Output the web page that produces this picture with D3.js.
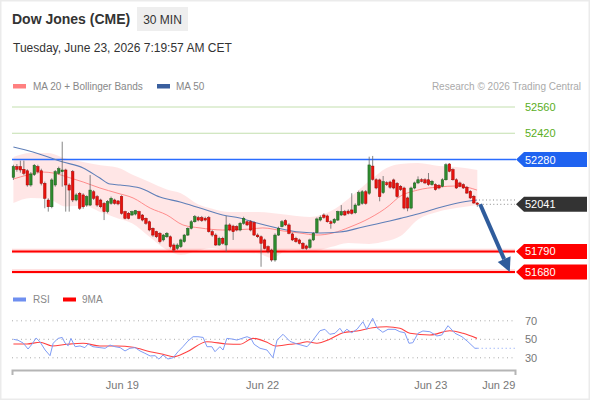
<!doctype html>
<html>
<head>
<meta charset="utf-8">
<title>Dow Jones (CME) 30 MIN</title>
<script src="https://cdnjs.cloudflare.com/ajax/libs/d3/7.8.5/d3.min.js"></script>
<style>
  body { margin: 0; background: #fff; }
  svg { display: block; font-family: "Liberation Sans", Arial, sans-serif; }
</style>
</head>
<body>
<div id="chart"></div>
<script>
// 30 min candles, [open, high, low, close]
const candles = [
  [52185,52252,52171,52242],[52242,52256,52215,52228],[52242,52274,52210,52224],[52228,52274,52196,52206],
  [52220,52228,52135,52144],[52144,52213,52135,52203],[52199,52256,52192,52249],[52242,52252,52206,52215],
  [52220,52231,52142,52153],[52153,52162,52020,52073],[52064,52073,52002,52028],[52028,52180,52020,52171],
  [52144,52224,52135,52215],[52206,52242,52199,52231],[52215,52375,52135,52224],[52224,52231,52002,52144],
  [52144,52153,52002,52117],[52215,52224,52053,52064],[52064,52100,52057,52091],[52100,52107,52011,52020],
  [52091,52100,52018,52028],[52037,52089,52028,52082],[52037,52197,52032,52117],[52108,52117,52064,52073],
  [52082,52091,52028,52037],[52064,52071,52020,52028],[52046,52053,51957,52002],[52002,52064,51993,52055],
  [52046,52082,52039,52073],[52064,52071,52039,52046],[52059,52064,52036,52043],[52082,52089,51986,51993],
  [52002,52007,51961,51966],[51993,52000,51961,51966],[51984,52007,51979,52002],[51989,52011,51982,52007],
  [52002,52007,51961,51966],[51984,51989,51950,51957],[51966,51971,51932,51940],[51948,51954,51897,51904],
  [51913,51918,51868,51877],[51895,51900,51861,51868],[51886,51893,51833,51842],[51851,51883,51843,51877],
  [51868,51893,51861,51886],[51868,51875,51806,51815],[51824,51833,51787,51797],[51806,51833,51797,51824],
  [51815,51858,51808,51851],[51842,51883,51836,51877],[51877,51918,51872,51913],[51913,51957,51907,51948],
  [51948,51984,51943,51975],[51970,51979,51950,51957],[51970,51979,51947,51954],[51966,51975,51950,51957],
  [51970,51979,51890,51895],[51895,51904,51868,51877],[51877,51886,51819,51824],[51824,51868,51819,51860],
  [51860,51868,51826,51833],[51824,51979,51788,51931],[51931,51940,51897,51904],[51925,51932,51851,51895],
  [51922,51929,51897,51904],[51904,51947,51897,51940],[51940,51975,51932,51966],[51948,51957,51925,51931],
  [51948,51957,51897,51904],[51943,51950,51872,51877],[51877,51886,51861,51868],[51868,51875,51708,51833],
  [51851,51858,51801,51806],[51815,51822,51780,51788],[51797,51804,51735,51744],[51744,51886,51735,51877],
  [51877,51922,51872,51913],[51922,51957,51918,51948],[51954,51961,51925,51931],[51931,51940,51881,51886],
  [51883,51890,51845,51851],[51860,51868,51836,51842],[51851,51858,51827,51833],[51833,51840,51801,51806],
  [51819,51826,51797,51806],[51811,51858,51804,51851],[51851,51893,51845,51886],[51890,51971,51886,51963],
  [51957,51982,51950,51971],[51984,51993,51964,51971],[51979,51986,51943,51948],[51948,51957,51911,51940],
  [51943,51968,51936,51961],[51957,52007,51952,52002],[51984,52037,51979,52002],[52002,52011,51979,51984],
  [52005,52014,51987,51993],[52011,52100,51986,51993],[51996,52046,51989,52037],[52037,52114,52032,52103],
  [52046,52117,52039,52108],[52108,52117,52039,52046],[52100,52295,52091,52251],[52245,52299,52167,52174],
  [52172,52180,52121,52128],[52171,52178,52057,52082],[52103,52192,52096,52162],[52156,52164,52139,52146],
  [52160,52167,52124,52132],[52171,52178,52121,52128],[52153,52160,52075,52082],[52137,52144,52112,52119],
  [52128,52135,52014,52021],[52075,52082,52004,52021],[52021,52135,52014,52128],[52128,52162,52121,52155],
  [52155,52190,52149,52172],[52172,52180,52158,52164],[52172,52180,52149,52155],[52172,52208,52140,52146],
  [52146,52171,52140,52164],[52146,52153,52114,52119],[52142,52149,52121,52128],[52137,52180,52132,52172],
  [52172,52260,52167,52252],[52256,52261,52212,52217],[52226,52233,52167,52172],[52172,52180,52123,52128],
  [52155,52162,52132,52137],[52146,52153,52123,52128],[52132,52139,52096,52101],[52110,52117,52069,52075],
  [52084,52091,52043,52048],[52048,52053,52028,52041]
];

// moving averages, [candle index, price]
const ma20 = [[0,52176],[4,52197],[8.5,52213],[11.4,52208],[15.4,52187],[20,52160],[24.8,52128],[29.7,52101],
  [34.3,52075],[39.2,52021],[44,51984],[48.6,51931],[53.5,51915],[60,51904],[67.8,51909],[71.5,51915],
  [77.3,51899],[82.1,51888],[87,51877],[91.6,51888],[96.5,51920],[102.2,51968],[107.9,52037],[110.2,52075],
  [115.9,52117],[121.7,52133],[127.4,52139],[132.9,52117]];
const ma50 = [[0,52347],[5.6,52320],[14.2,52267],[20,52235],[24.8,52181],[27.7,52149],[30.6,52144],[36.3,52128],
  [42,52080],[47.8,52053],[53.5,52021],[60,51984],[64.9,51968],[69.8,51941],[75.6,51915],[82.1,51893],
  [87.9,51888],[93.6,51893],[100.2,51920],[107.9,51952],[111.4,51968],[115.9,51989],[121.7,52021],
  [127.4,52048],[132.9,52064]];

// Bollinger bands
const bbIdx   = [0,5,10,15,20,25,30,34,39,44,48,53,57,62,66,70,74,79,85,91,96,102,107,111,116,122,127,133];
const bbUpper = [52293,52315,52315,52285,52267,52250,52236,52200,52160,52120,52100,52040,52018,52000,52000,52000,
  51995,51984,51973,52005,52070,52165,52235,52256,52261,52245,52240,52224];
const bbLower = [52048,52075,52070,52030,52035,52000,51965,51940,51868,51797,51771,51795,51808,51787,51783,51780,
  51755,51797,51787,51813,51835,51830,51845,51872,51960,52003,52021,52037];

// key levels
const resistances = [52560, 52420];
const pivot = 52280;
const supports = [51790, 51680];
const lastPrice = 52041;

// RSI and its 9 period MA, [candle index, value]
const rsi = [[0,50],[1.3,49],[2.8,46],[4.2,39.5],[5.4,45],[6.5,51.4],[7.6,47.4],[9.1,38.4],[10.5,32.3],[11.4,45.7],
  [12.8,51],[14,52],[14.8,46],[15.7,43],[16.5,51],[17.7,42],[19.1,42.8],[20.5,41],[21.4,45],[22.8,42],[24.8,41],
  [26.3,40.3],[27.7,43.8],[29.1,42],[30.6,41],[32,37.4],[33.4,40.3],[34.9,41],[36.3,37.4],[37.7,34.9],[39.2,32],
  [40.6,32.3],[41.7,28.7],[42.9,33],[44.3,28.7],[45.8,30.1],[47.2,36.6],[48.6,42],[50,48],[51.5,52.8],[52.9,52.8],
  [54.4,52],[55.5,42],[56.9,42],[57.8,36.6],[59.2,42],[60.1,38.4],[61.2,51],[62.7,50.3],[64.1,49.2],[65.5,51],
  [67,52.8],[68.1,51],[69,44.6],[70.7,40.3],[72.7,38.4],[74.4,30.1],[75.6,49.2],[77.3,55.4],[79.3,47.7],[81.3,45],
  [84.2,42],[85.9,49.2],[87.9,59.3],[89.3,60.8],[90.7,55.4],[92.2,56.5],[93.6,61.9],[94.5,57.1],[95.6,60.8],
  [97,57.1],[98.5,60.8],[100.2,69],[101.3,60.8],[103,72.7],[104.2,62.5],[105.9,57.6],[107.4,60.8],[109.4,60.8],
  [110.8,58.2],[112.2,57.1],[113.4,45.7],[114.5,46.3],[116,56.5],[117.4,59],[119.4,58.2],[121.4,53.6],
  [122.8,54.6],[124.6,64.7],[126.6,56.5],[128.6,52.8],[130.3,47.4],[132.3,40.3],[133.1,40.3]];
const rsiMa = [[0,45],[3.9,45],[7.6,46.8],[11.1,42.8],[15.4,44.6],[20,45.7],[24.8,42.8],[29.7,42.8],[34.3,41.4],
  [39.2,36.6],[42.9,33.8],[45.8,31.2],[49.8,36.6],[55.5,47.4],[61.2,45],[64.9,44.6],[68.7,51],[72.7,46.8],
  [75,42.8],[79.3,44.6],[82.1,45.7],[84.2,47.4],[87,45.7],[90.7,50],[94.5,57.1],[98.5,59],[103,62.5],
  [107,63.6],[110.8,61.9],[113.7,56.5],[119.4,54.6],[125.1,59.3],[128.9,56.5],[132.9,51]];
const rsiTicks = [30, 50, 70];

// time axis
const dateLabels = ["Jun 19", "Jun 22", "Jun 23", "Jun 29"];
const dateIdx = [31.1, 71.3, 119.5, 139];

// forecast arrow: [candle index, price]
const arrowFrom = [133.8, 52041];
const arrowTo = [142.3, 51680];

const W = 590, H = 400;
const svg = d3.select('#chart').append('svg')
  .attr('width', W).attr('height', H);

// frame
svg.append('rect').attr('x', 0.75).attr('y', 0.75).attr('width', W - 1.5).attr('height', H - 1.5)
  .attr('fill', '#fff').attr('stroke', '#ebebeb').attr('stroke-width', 1.5);

// header
svg.append('text').attr('x', 12).attr('y', 24).attr('font-size', 14).attr('font-weight', 'bold')
  .attr('fill', '#333').text('Dow Jones (CME)');
svg.append('rect').attr('x', 137).attr('y', 7).attr('width', 51).attr('height', 24).attr('fill', '#eeeeee');
svg.append('text').attr('x', 162.5).attr('y', 23.5).attr('text-anchor', 'middle').attr('font-size', 12)
  .attr('fill', '#333').text('30 MIN');
svg.append('text').attr('x', 13).attr('y', 52).attr('font-size', 12).attr('fill', '#333')
  .text('Tuesday, June 23, 2026 7:19:57 AM CET');

// scales
const x = d3.scaleLinear().domain([-0.4, 143.8]).range([12, 515]);
const y = d3.scaleLinear().domain([51680, 52560]).range([272, 107]);
const yr = d3.scaleLinear().domain([30, 70]).range([357.8, 320.8]);
const x0 = 12, x1 = 515;

// legend
const legend = svg.append('g').attr('font-size', 10).attr('fill', '#888');
legend.append('rect').attr('x', 13).attr('y', 84).attr('width', 13).attr('height', 4.5).attr('fill', '#ff8080');
legend.append('text').attr('x', 33).attr('y', 90).text('MA 20 + Bollinger Bands');
legend.append('rect').attr('x', 157).attr('y', 84).attr('width', 13).attr('height', 4.5).attr('fill', '#3a5f9e');
legend.append('text').attr('x', 176).attr('y', 90).text('MA 50');
svg.append('text').attr('x', 581).attr('y', 90).attr('text-anchor', 'end').attr('font-size', 10)
  .attr('fill', '#aaa').text('Research \u00a9 2026 Trading Central');

// resistance lines
resistances.forEach(v => {
  svg.append('line').attr('x1', x0).attr('x2', x1).attr('y1', y(v)).attr('y2', y(v))
    .attr('stroke', '#c3dfae').attr('stroke-width', 1);
  svg.append('text').attr('x', 525).attr('y', y(v) + 4).attr('font-size', 11).attr('fill', '#5aae1e').text(v);
});

// bollinger band fill
const band = bbIdx.map((d, i) => ({ i: d, hi: bbUpper[i], lo: bbLower[i] }));
svg.append('path').datum(band)
  .attr('d', d3.area().x(d => x(d.i)).y0(d => y(d.lo)).y1(d => y(d.hi)).curve(d3.curveMonotoneX))
  .attr('fill', '#ffdede').attr('opacity', 0.75);

// pivot line
svg.append('line').attr('x1', x0).attr('x2', x1 + 1).attr('y1', y(pivot)).attr('y2', y(pivot))
  .attr('stroke', '#2a6cff').attr('stroke-width', 1.5);

// support lines
supports.forEach(v => {
  svg.append('line').attr('x1', x0).attr('x2', x1).attr('y1', y(v) - 0.5).attr('y2', y(v) - 0.5)
    .attr('stroke', '#ff0000').attr('stroke-opacity', 0.15).attr('stroke-width', 4.5);
  svg.append('line').attr('x1', x0).attr('x2', x1).attr('y1', y(v)).attr('y2', y(v))
    .attr('stroke', '#f00').attr('stroke-width', 2);
});

// moving averages
const line = d3.line().x(d => x(d[0])).y(d => y(d[1])).curve(d3.curveMonotoneX);
svg.append('path').datum(ma20).attr('d', line).attr('fill', 'none').attr('stroke', '#ff8c8c').attr('stroke-width', 1);
svg.append('path').datum(ma50).attr('d', line).attr('fill', 'none').attr('stroke', '#5f7fb8').attr('stroke-width', 1.1);

// candles
const step = x(1) - x(0);
const bw = step * 0.72;
const cg = svg.append('g').selectAll('g').data(candles).join('g');
cg.append('line')
  .attr('x1', (d, i) => x(i)).attr('x2', (d, i) => x(i))
  .attr('y1', d => y(d[1])).attr('y2', d => y(d[2]))
  .attr('stroke', '#666').attr('stroke-width', 0.8);
cg.append('rect')
  .attr('x', (d, i) => x(i) - bw / 2).attr('width', bw)
  .attr('y', d => y(Math.max(d[0], d[3])))
  .attr('height', d => Math.max(1, Math.abs(y(d[0]) - y(d[3]))))
  .attr('fill', d => d[3] >= d[0] ? '#2e8b2e' : '#e8120c')
  .attr('stroke', d => d[3] >= d[0] ? '#1d5a1d' : '#a30000')
  .attr('stroke-width', 0.5);

// dotted leaders to the label column
const lastIdx = candles.length - 1;
const ma50Last = ma50[ma50.length - 1];
svg.append('line').attr('x1', x(ma50Last[0]) + 2).attr('x2', x1).attr('y1', y(ma50Last[1])).attr('y2', y(ma50Last[1]))
  .attr('stroke', '#888').attr('stroke-width', 1).attr('stroke-dasharray', '1,2.5');
svg.append('line').attr('x1', x(lastIdx) + 2).attr('x2', x1).attr('y1', y(lastPrice)).attr('y2', y(lastPrice))
  .attr('stroke', '#888').attr('stroke-width', 1).attr('stroke-dasharray', '1,2.5');

// price tags
function tag(v, color) {
  const cy = y(v);
  svg.append('path')
    .attr('d', `M516,${cy} L524,${cy - 7.5} L587,${cy - 7.5} L587,${cy + 7.5} L524,${cy + 7.5} Z`)
    .attr('fill', color);
  svg.append('text').attr('x', 525).attr('y', cy + 4).attr('font-size', 11).attr('fill', '#fff').text(v);
}
tag(pivot, '#1f63f0');
tag(lastPrice, '#333333');
supports.forEach(v => tag(v, '#ff0000'));

// forecast arrow
const ax0 = x(arrowFrom[0]), ay0 = y(arrowFrom[1]);
const ax1 = x(arrowTo[0]), ay1 = y(arrowTo[1]);
const ang = Math.atan2(ay1 - ay0, ax1 - ax0);
const hl = 14, hw = 7;
const bx = ax1 - hl * Math.cos(ang), by = ay1 - hl * Math.sin(ang);
svg.append('line').attr('x1', ax0).attr('y1', ay0).attr('x2', bx).attr('y2', by)
  .attr('stroke', '#2f5c9c').attr('stroke-width', 4);
svg.append('path')
  .attr('d', `M${ax1},${ay1} L${bx + hw * Math.sin(ang)},${by - hw * Math.cos(ang)} L${bx - hw * Math.sin(ang)},${by + hw * Math.cos(ang)} Z`)
  .attr('fill', '#2f5c9c');

// RSI legend
const rl = svg.append('g').attr('font-size', 10).attr('fill', '#888');
rl.append('rect').attr('x', 13).attr('y', 297.5).attr('width', 13).attr('height', 4).attr('fill', '#6f8ff0');
rl.append('text').attr('x', 33).attr('y', 303).text('RSI');
rl.append('rect').attr('x', 63).attr('y', 297.5).attr('width', 13).attr('height', 4).attr('fill', '#ff0000');
rl.append('text').attr('x', 82).attr('y', 303).text('9MA');

// RSI grid
rsiTicks.forEach(t => {
  svg.append('line').attr('x1', x0).attr('x2', x1).attr('y1', yr(t)).attr('y2', yr(t))
    .attr('stroke', '#aaa').attr('stroke-width', 1).attr('stroke-dasharray', '1,3.5');
  svg.append('text').attr('x', 525).attr('y', yr(t) + 4).attr('font-size', 11).attr('fill', '#777').text(t);
});

const rline = d3.line().x(d => x(d[0])).y(d => yr(d[1]));
svg.append('path').datum(rsiMa).attr('d', rline.curve(d3.curveMonotoneX)).attr('fill', 'none')
  .attr('stroke', '#ff4040').attr('stroke-width', 1.1);
svg.append('path').datum(rsi).attr('d', d3.line().x(d => x(d[0])).y(d => yr(d[1]))).attr('fill', 'none')
  .attr('stroke', '#7f9cf5').attr('stroke-width', 1);
const rsiLast = rsi[rsi.length - 1];
svg.append('line').attr('x1', x(rsiLast[0])).attr('x2', x1).attr('y1', yr(rsiLast[1])).attr('y2', yr(rsiLast[1]))
  .attr('stroke', '#7f9cf5').attr('stroke-width', 1).attr('stroke-dasharray', '1,3');

// time axis
const axis = d3.axisBottom(x)
  .tickValues(dateIdx)
  .tickFormat((d, i) => dateLabels[i])
  .tickSizeInner(0).tickSizeOuter(5).tickPadding(11);
const ag = svg.append('g').attr('transform', 'translate(0,370)').call(axis);
ag.select('.domain').attr('stroke', '#b5b5b5').attr('stroke-width', 2);
ag.selectAll('text').attr('fill', '#777').attr('font-size', 11)
  .attr('font-family', '"Liberation Sans", Arial, sans-serif');
</script>
</body>
</html>
